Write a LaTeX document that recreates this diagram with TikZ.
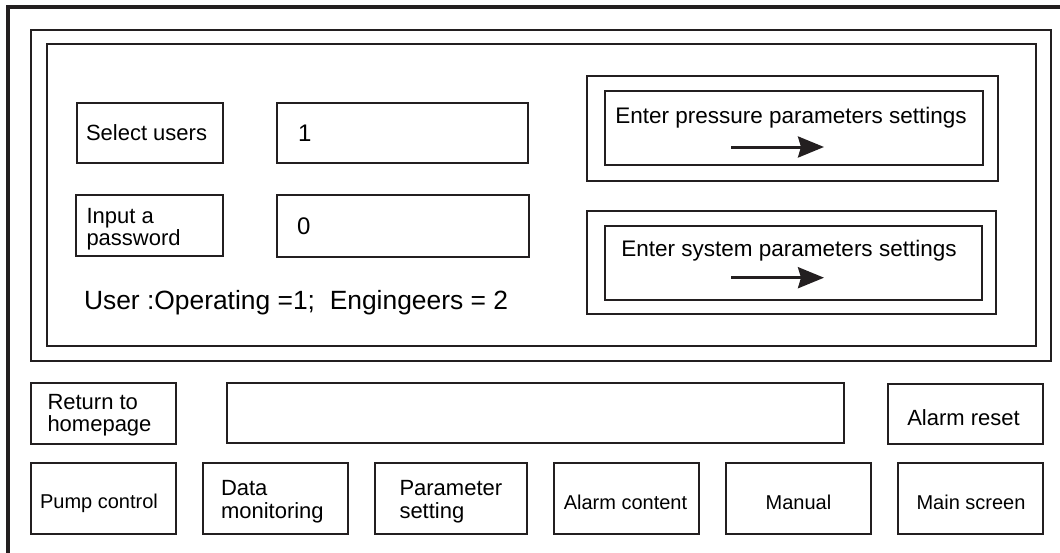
\documentclass[tikz,border=0pt]{standalone}
\usepackage{fontspec}
\setmainfont{Liberation Sans}
\usetikzlibrary{arrows.meta}
\definecolor{ink}{RGB}{35,31,32}
\tikzset{
  box/.style={draw=ink, line width=1.7pt, inner sep=0pt, outer sep=0pt},
  lbl/.style={inner sep=0pt, outer sep=0pt, text=black, font=\fontsize{22}{22}\selectfont},
  lblsm/.style={inner sep=0pt, outer sep=0pt, text=black, font=\fontsize{20}{20}\selectfont},
  arr/.style={draw=ink, line width=3pt, -{Stealth[length=26pt,width=21pt,inset=3pt]}},
}
\begin{document}
\begin{tikzpicture}[x=1pt,y=-1pt]
\useasboundingbox (0,0) rectangle (1060,552);
% outer frame (cut off at right and bottom)
\coordinate (oTL) at (8,7);
\coordinate (oTR) at (1062,7);
\coordinate (oBL) at (8,554);
\draw[ink, line width=3.5pt] (oTR) -- (oTL) -- (oBL);
% frames of upper panel
\node[box, minimum width=1020pt, minimum height=331pt] (frameA) at (541,195.5) {};
\node[box, minimum width=989pt, minimum height=302pt] (frameB) at (541.5,195) {};
% user / password fields
\node[box, minimum width=146pt, minimum height=60pt] (sel) at (150,133) {};
\node[lbl, anchor=west] (selt) at (86,133) {Select users};
\node[box, minimum width=251pt, minimum height=60pt] (val1) at (402.5,133) {};
\node[lbl, anchor=west, font=\fontsize{24}{24}\selectfont] (val1t) at (298,133) {1};
\node[box, minimum width=147pt, minimum height=61pt] (pwd) at (149.5,225.5) {};
\node[lbl, anchor=base west] (pwdt1) at (86.5,223) {Input a};
\node[lbl, anchor=base west] (pwdt2) at (86.5,245) {password};
\node[box, minimum width=252pt, minimum height=62pt] (val0) at (403,226) {};
\node[lbl, anchor=west, font=\fontsize{24}{24}\selectfont] (val0t) at (297,226) {0};
\node[lbl, anchor=base west, font=\fontsize{26.4}{26.4}\selectfont] (usert) at (84,309) {User :Operating =1;\ \ Engingeers = 2};
% enter buttons
\node[box, minimum width=411pt, minimum height=105pt] (presO) at (792.5,128.5) {};
\node[box, minimum width=378pt, minimum height=74pt] (presI) at (794,128) {};
\node[lbl, anchor=base, font=\fontsize{22.5}{22.5}\selectfont] (prest) at (791,123) {Enter pressure parameters settings};
\coordinate (pa1) at (731,147);
\coordinate (pa2) at (824,147);
\draw[arr] (pa1) -- (pa2);
\node[box, minimum width=409pt, minimum height=103pt] (sysO) at (791.5,262.5) {};
\node[box, minimum width=377pt, minimum height=74pt] (sysI) at (793.5,263) {};
\node[lbl, anchor=base, font=\fontsize{22.5}{22.5}\selectfont] (syst) at (789,256.5) {Enter system parameters settings};
\coordinate (sa1) at (731,277.7);
\coordinate (sa2) at (824,277.7);
\draw[arr] (sa1) -- (sa2);
% middle row
\node[box, minimum width=145pt, minimum height=61pt] (ret) at (103.5,413.5) {};
\node[lbl, anchor=base west] (rett1) at (47.5,409) {Return to};
\node[lbl, anchor=base west] (rett2) at (47.5,431.5) {homepage};
\node[box, minimum width=617pt, minimum height=60pt] (msg) at (535.5,413) {};
\node[box, minimum width=155pt, minimum height=60pt] (ares) at (965.5,414) {};
\node[lbl, anchor=base] (arest) at (963.5,425) {Alarm reset};
% bottom row
\node[box, minimum width=145pt, minimum height=71pt] (pump) at (103.5,498.5) {};
\node[lblsm, anchor=base] (pumpt) at (99,508.5) {Pump control};
\node[box, minimum width=145pt, minimum height=71pt] (data) at (275.5,498.5) {};
\node[lbl, anchor=base west] (datat1) at (221,495) {Data};
\node[lbl, anchor=base west] (datat2) at (221,518) {monitoring};
\node[box, minimum width=152pt, minimum height=71pt] (param) at (451,498.5) {};
\node[lbl, anchor=base west] (paramt1) at (399.5,495) {Parameter};
\node[lbl, anchor=base west] (paramt2) at (399.5,518) {setting};
\node[box, minimum width=145pt, minimum height=71pt] (acont) at (626.5,498.5) {};
\node[lblsm, anchor=base] (acontt) at (625.5,509) {Alarm content};
\node[box, minimum width=145pt, minimum height=71pt] (man) at (798.5,498.5) {};
\node[lblsm, anchor=base] (mant) at (798.5,509) {Manual};
\node[box, minimum width=145pt, minimum height=71pt] (mains) at (970.5,498.5) {};
\node[lblsm, anchor=base] (mainst) at (971,509) {Main screen};
\end{tikzpicture}
\end{document}
